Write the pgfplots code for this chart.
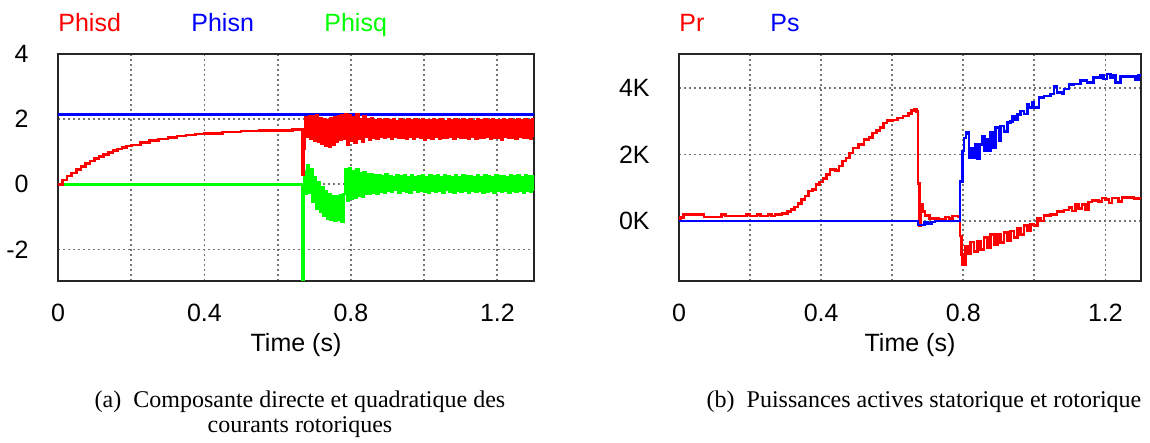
\documentclass[border=0pt]{standalone}
\usepackage{fontspec}
\setmainfont{Liberation Sans}
\newfontfamily\capfont{Liberation Serif}
\usepackage{pgfplots}
\pgfplotsset{compat=1.18}

\pgfplotsset{
  panel/.style={
    scale only axis, anchor=south west, height=113.5pt,
    xmin=0, xmax=1.3,
    axis line style={black!85, line width=1pt},
    major tick length=0pt, minor tick length=0pt,
    xtick={0,0.4,0.8,1.2}, minor xtick={0.2,0.6,1.0},
    xticklabels={0,0.4,0.8,1.2},
    xmajorgrids, xminorgrids, ymajorgrids,
    grid style={black!55, line width=0.9pt, dash pattern=on 0.9pt off 1.6pt},
    minor grid style={black!55, line width=0.9pt, dash pattern=on 0.9pt off 1.6pt},
    ticklabel style={font=\fontsize{12.5}{15}\selectfont},
    xticklabel style={inner sep=0pt, anchor=center, yshift=-16pt},
    yticklabel style={inner sep=0pt, anchor=east, xshift=-14.5pt},
    xlabel={Time (s)},
    xlabel style={at={(axis description cs:0.5,0)}, anchor=center, yshift=-32pt,
      font=\fontsize{12.5}{15}\selectfont},
    every axis plot/.append style={const plot, line width=1.3pt},
  }
}

\begin{document}
\begin{tikzpicture}
\path[use as bounding box] (0,0) rectangle (575pt,221.5pt);

% (a) rotor current components
\begin{axis}[panel, at={(29pt,81pt)}, width=238pt,
  ymin=-2.97, ymax=4, ytick={-2,0,2,4}, yticklabels={-2,0,2,4}]
\addplot[blue] coordinates {(0,2.15) (1.3,2.15)};
\addplot[green] coordinates {
(0.000,0.00) (0.667,-3.30) (0.672,0.40) (0.675,-0.30) (0.680,0.58) (0.685,-0.25)
(0.690,0.45) (0.695,-0.55) (0.700,0.20) (0.705,-0.75) (0.710,0.05) (0.715,-0.85)
(0.720,-0.10) (0.725,-0.95) (0.730,-0.22) (0.735,-1.05) (0.740,-0.30) (0.745,-1.08)
(0.750,-0.36) (0.755,-1.12) (0.760,-0.38) (0.765,-1.10) (0.770,-0.34) (0.775,-1.15)
(0.780,-0.30) (0.785,0.45) (0.790,-0.50) (0.795,0.48) (0.800,-0.45) (0.805,0.40)
(0.810,-0.42) (0.815,0.46) (0.820,-0.35) (0.825,0.34) (0.830,-0.38) (0.835,0.38)
(0.840,-0.30) (0.845,0.30) (0.850,-0.28) (0.855,0.32) (0.860,-0.25) (0.865,0.26)
(0.870,-0.28) (0.875,0.28) (0.880,-0.22) (0.885,0.24) (0.890,-0.26) (0.895,0.30)
(0.900,-0.20) (0.905,0.25) (0.910,-0.24) (0.915,0.22) (0.920,-0.18) (0.925,0.28)
(0.930,-0.25) (0.935,0.23) (0.940,-0.20) (0.945,0.26) (0.950,-0.22) (0.955,0.20)
(0.960,-0.25) (0.965,0.27) (0.970,-0.18) (0.975,0.22) (0.980,-0.24) (0.985,0.25)
(0.990,-0.20) (0.995,0.29) (1.000,-0.22) (1.005,0.21) (1.010,-0.26) (1.015,0.26)
(1.020,-0.19) (1.025,0.23) (1.030,-0.24) (1.035,0.28) (1.040,-0.21) (1.045,0.22)
(1.050,-0.25) (1.055,0.26) (1.060,-0.18) (1.065,0.24) (1.070,-0.23) (1.075,0.21)
(1.080,-0.26) (1.085,0.29) (1.090,-0.20) (1.095,0.22) (1.100,-0.24) (1.105,0.27)
(1.110,-0.19) (1.115,0.23) (1.120,-0.25) (1.125,0.25) (1.130,-0.21) (1.135,0.22)
(1.140,-0.24) (1.145,0.28) (1.150,-0.20) (1.155,0.21) (1.160,-0.25) (1.165,0.26)
(1.170,-0.22) (1.175,0.24) (1.180,-0.19) (1.185,0.22) (1.190,-0.26) (1.195,0.27)
(1.200,-0.21) (1.205,0.23) (1.210,-0.24) (1.215,0.25) (1.220,-0.20) (1.225,0.22)
(1.230,-0.25) (1.235,0.28) (1.240,-0.19) (1.245,0.23) (1.250,-0.24) (1.255,0.26)
(1.260,-0.21) (1.265,0.22) (1.270,-0.25) (1.275,0.27) (1.280,-0.20) (1.285,0.24)
(1.290,-0.23) (1.295,0.25) (1.300,-0.21)};
\addplot[red] coordinates {
(0,0.00) (0.0125,0.13) (0.025,0.25) (0.0375,0.35) (0.05,0.46) (0.0625,0.55)
(0.075,0.64) (0.0875,0.72) (0.1,0.79) (0.1125,0.86) (0.125,0.92) (0.1375,0.98)
(0.15,1.03) (0.1625,1.08) (0.175,1.13) (0.1875,1.17) (0.2,1.21) (0.225,1.28)
(0.25,1.34) (0.275,1.39) (0.3,1.44) (0.325,1.48) (0.35,1.51) (0.375,1.54)
(0.4,1.56) (0.45,1.60) (0.5,1.63) (0.55,1.65) (0.6,1.66) (0.64,1.68)
(0.668,0.30) (0.671,1.10) (0.674,1.55)
(0.675,2.05) (0.680,1.45) (0.685,2.10) (0.690,1.40) (0.695,2.08) (0.700,1.35)
(0.705,2.12) (0.710,1.30) (0.715,2.02) (0.720,1.25) (0.725,1.98) (0.730,1.18)
(0.735,1.96) (0.740,1.14) (0.745,2.02) (0.750,1.22) (0.755,2.06) (0.760,1.30)
(0.765,2.08) (0.770,1.36) (0.775,2.12) (0.780,1.40) (0.785,2.15) (0.790,1.22)
(0.795,2.12) (0.800,1.34) (0.805,2.06) (0.810,1.28) (0.815,2.14) (0.820,1.40)
(0.825,1.98) (0.830,1.32) (0.835,2.10) (0.840,1.45) (0.845,2.00) (0.850,1.38)
(0.855,2.03) (0.860,1.44) (0.865,1.97) (0.870,1.40) (0.875,2.00) (0.880,1.46)
(0.885,1.95) (0.890,1.42) (0.895,2.01) (0.900,1.45) (0.905,1.96) (0.910,1.40)
(0.915,1.99) (0.920,1.47) (0.925,1.94) (0.930,1.42) (0.935,2.00) (0.940,1.44)
(0.945,1.97) (0.950,1.39) (0.955,1.98) (0.960,1.46) (0.965,1.95) (0.970,1.41)
(0.975,2.01) (0.980,1.45) (0.985,1.96) (0.990,1.42) (0.995,1.99) (1.000,1.38)
(1.005,1.97) (1.010,1.44) (1.015,1.95) (1.020,1.41) (1.025,2.00) (1.030,1.46)
(1.035,1.96) (1.040,1.40) (1.045,1.98) (1.050,1.44) (1.055,1.94) (1.060,1.42)
(1.065,2.01) (1.070,1.45) (1.075,1.96) (1.080,1.39) (1.085,1.99) (1.090,1.45)
(1.095,1.95) (1.100,1.42) (1.105,2.00) (1.110,1.44) (1.115,1.97) (1.120,1.40)
(1.125,1.98) (1.130,1.46) (1.135,1.94) (1.140,1.41) (1.145,2.01) (1.150,1.44)
(1.155,1.96) (1.160,1.42) (1.165,1.99) (1.170,1.45) (1.175,1.95) (1.180,1.40)
(1.185,2.00) (1.190,1.44) (1.195,1.97) (1.200,1.42) (1.205,1.96) (1.210,1.38)
(1.215,2.01) (1.220,1.45) (1.225,1.95) (1.230,1.42) (1.235,1.99) (1.240,1.44)
(1.245,1.96) (1.250,1.41) (1.255,2.00) (1.260,1.45) (1.265,1.97) (1.270,1.42)
(1.275,1.98) (1.280,1.44) (1.285,1.95) (1.290,1.41) (1.295,1.99) (1.300,1.44)};
\end{axis}

% (b) active powers, in kW
\begin{axis}[panel, at={(339.5pt,81pt)}, width=231pt,
  ymin=-1.8, ymax=5.02, ytick={0,2,4}, yticklabels={0K,2K,4K}]
\addplot[red] coordinates {
(0,0) (0.005,0.10) (0.012,0.20) (0.07,0.12) (0.12,0.20) (0.13,0.15) (0.19,0.20)
(0.20,0.15) (0.22,0.20) (0.23,0.15) (0.25,0.20) (0.26,0.15) (0.27,0.20) (0.29,0.22)
(0.305,0.28) (0.315,0.35) (0.325,0.42) (0.335,0.52) (0.345,0.65) (0.355,0.75)
(0.365,0.90) (0.375,0.95) (0.385,1.10) (0.395,1.18) (0.405,1.28) (0.415,1.40)
(0.425,1.55) (0.44,1.52) (0.45,1.65) (0.46,1.80) (0.47,1.90) (0.48,2.05)
(0.49,2.20) (0.505,2.30) (0.52,2.45) (0.535,2.52) (0.545,2.65) (0.555,2.72)
(0.565,2.82) (0.575,2.95) (0.585,3.02) (0.6,3.04) (0.615,3.10) (0.63,3.16)
(0.645,3.24) (0.655,3.32) (0.663,3.37) (0.669,3.30) (0.672,1.13) (0.677,-0.13)
(0.681,0.50) (0.686,0.28) (0.692,0.17) (0.705,0.08) (0.73,0.05) (0.75,0.12)
(0.76,0.08) (0.77,0.15) (0.785,0.14) (0.791,-0.45) (0.795,-1.00) (0.798,-1.30)
(0.806,-0.75) (0.814,-0.98) (0.821,-0.63) (0.83,-0.92) (0.84,-0.60) (0.849,-0.86)
(0.858,-0.50) (0.868,-0.80) (0.877,-0.40) (0.887,-0.70) (0.896,-0.40) (0.905,-0.65)
(0.915,-0.35) (0.924,-0.60) (0.933,-0.30) (0.943,-0.50) (0.952,-0.22) (0.961,-0.40)
(0.971,-0.14) (0.98,-0.30) (0.989,-0.10) (0.999,-0.14) (1.008,0.08) (1.017,0.00)
(1.027,0.16) (1.045,0.20) (1.064,0.28) (1.083,0.33) (1.097,0.40) (1.106,0.30)
(1.115,0.50) (1.124,0.38) (1.134,0.50) (1.143,0.33) (1.153,0.57) (1.162,0.61)
(1.18,0.59) (1.19,0.69) (1.2,0.64) (1.21,0.54) (1.218,0.69) (1.236,0.59)
(1.246,0.71) (1.274,0.71) (1.28,0.67) (1.293,0.69) (1.3,0.69)};
\addplot[blue] coordinates {
(0,0) (0.672,-0.12) (0.686,-0.12) (0.69,-0.04) (0.70,-0.07) (0.71,-0.03) (0.72,0)
(0.79,0) (0.791,1.19) (0.798,2.10) (0.802,2.50) (0.807,2.66) (0.814,2.62)
(0.816,1.90) (0.823,2.20) (0.829,1.90) (0.835,2.30) (0.84,1.88) (0.847,2.30)
(0.854,2.56) (0.859,2.10) (0.863,2.45) (0.868,2.10) (0.877,2.66) (0.882,2.20)
(0.891,2.81) (0.901,2.40) (0.905,2.86) (0.915,2.70) (0.924,2.96) (0.933,3.00)
(0.938,3.16) (0.947,3.05) (0.952,3.20) (0.961,3.31) (0.971,3.22) (0.98,3.51)
(0.985,3.41) (0.994,3.57) (0.999,3.41) (1.013,3.72) (1.027,3.76) (1.045,3.82)
(1.055,4.04) (1.064,3.87) (1.078,3.82) (1.083,3.97) (1.097,4.10) (1.111,4.12)
(1.13,4.22) (1.148,4.17) (1.167,4.32) (1.186,4.37) (1.195,4.27) (1.204,4.42)
(1.214,4.32) (1.223,4.37) (1.228,4.17) (1.242,4.34) (1.279,4.34) (1.284,4.24)
(1.293,4.37) (1.3,4.37)};
\end{axis}

% series names above the panels
\begin{scope}[every node/.style={anchor=base west, inner sep=0pt,
    font=\fontsize{12.5}{15}\selectfont}]
\node[text=red]   at (29pt,205.7pt)   {Phisd};
\node[text=blue]  at (95.5pt,205.7pt) {Phisn};
\node[text=green] at (162pt,205.7pt)  {Phisq};
\node[text=red]   at (339.5pt,205.7pt) {Pr};
\node[text=blue]  at (385pt,205.7pt)  {Ps};
\end{scope}

% sub-captions
\begin{scope}[every node/.style={anchor=base, inner sep=0pt,
    font=\capfont\fontsize{12}{14}\selectfont}]
\node at (150pt,17.5pt) {(a)\enspace Composante directe et quadratique des};
\node at (150pt,5pt) {courants rotoriques};
\node at (462pt,17.5pt) {(b)\enspace Puissances actives statorique et rotorique};
\end{scope}
\end{tikzpicture}
\end{document}
